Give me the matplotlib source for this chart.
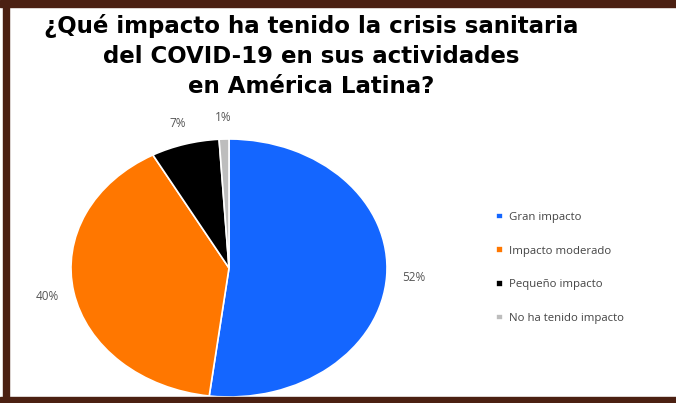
import matplotlib
matplotlib.use("Agg")
import matplotlib.pyplot as plt
from matplotlib.patches import Rectangle

# datos de la encuesta
categorias = ["Gran impacto", "Impacto moderado", "Pequeño impacto", "No ha tenido impacto"]
porcentajes = [52, 40, 7, 1]
colores = ["#1466ff", "#ff7700", "#000000", "#bdbdbd"]
titulo = "¿Qué impacto ha tenido la crisis sanitaria\ndel COVID-19 en sus actividades\nen América Latina?"

W, H = 676, 403
fig = plt.figure(figsize=(W / 100, H / 100), dpi=100)
fig.patch.set_facecolor("white")

# pie is slightly stretched horizontally in the original (rx ~158px, ry ~129px)
cx, cy, rx, ry = 229, 268, 158, 129
ax = fig.add_axes([(cx - rx * 1.25) / W, 1 - (cy + ry * 1.25) / H,
                   rx * 2.5 / W, ry * 2.5 / H])
wedges, textos, pcts = ax.pie(porcentajes, colors=colores, startangle=90,
                              counterclock=False, autopct="%d%%", pctdistance=1.17,
                              wedgeprops=dict(edgecolor="white", linewidth=1.2),
                              textprops=dict(fontsize=8.5, color="#555555", family="Open Sans"))
ax.set_aspect("auto")
ax.set_xlim(-1.25, 1.25)
ax.set_ylim(-1.25, 1.25)

leg = fig.legend(wedges, categorias, loc="center left",
                 bbox_to_anchor=(496 / W, 1 - 268 / H), frameon=False,
                 prop=dict(family="Open Sans", size=8.2), labelcolor="#444444",
                 handlelength=0.6, handleheight=0.5, handletextpad=0.5,
                 labelspacing=2.0, borderpad=0, borderaxespad=0)

fig.text(311 / W, 1 - 56 / H, titulo, ha="center", va="center", fontsize=16.5,
         fontweight="bold", family="DejaVu Sans", linespacing=1.4, color="black")

# marco marron
borde = "#4b2012"
fig.patches.append(Rectangle((0, 1 - 7 / H), 1, 7 / H, transform=fig.transFigure,
                             color=borde, zorder=10))
fig.patches.append(Rectangle((3 / W, 0), 6 / W, 1, transform=fig.transFigure,
                             color=borde, zorder=10))
fig.patches.append(Rectangle((0, 0), 1, 6 / H, transform=fig.transFigure,
                             color=borde, zorder=10))

fig.savefig("out.png", dpi=100)
